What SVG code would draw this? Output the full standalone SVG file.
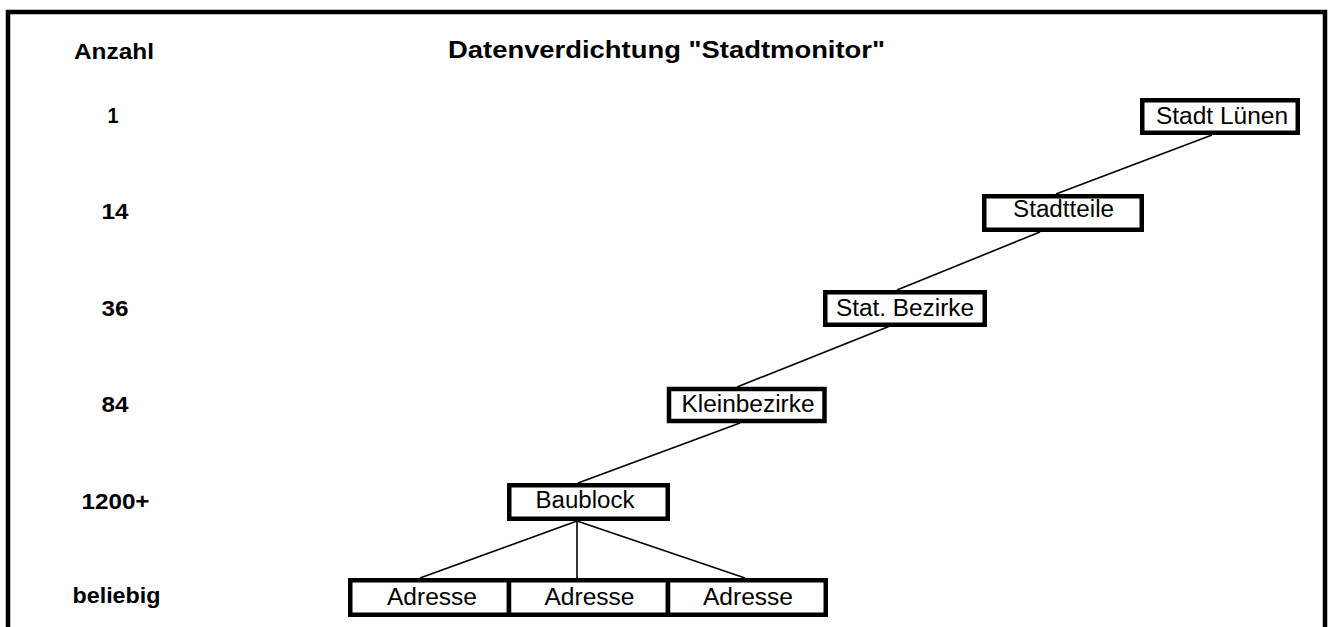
<svg xmlns="http://www.w3.org/2000/svg" width="1333" height="627" viewBox="0 0 1333 627">
<style>
.box{fill:#fff;stroke:#000;stroke-width:4.5}
.lbl{font-family:"Liberation Sans",Arial,sans-serif;font-size:23.5px;fill:#000;text-anchor:middle}
.cnt{font-family:"Liberation Sans",Arial,sans-serif;font-size:22px;font-weight:bold;fill:#000;text-anchor:middle}
.ttl{font-family:"Liberation Sans",Arial,sans-serif;font-size:23.5px;font-weight:bold;fill:#000;text-anchor:middle}
.ln{stroke:#000;stroke-width:1.6;fill:none}
</style>
<rect width="1333" height="627" fill="#fff"/>
<path d="M8 640 V12 H1325 V640" fill="none" stroke="#000" stroke-width="4.5"/>
<g id="header">
<text class="cnt" x="114" y="59" textLength="80" lengthAdjust="spacingAndGlyphs">Anzahl</text>
<text class="ttl" x="666.5" y="58" textLength="437" lengthAdjust="spacingAndGlyphs">Datenverdichtung "Stadtmonitor"</text>
</g>
<g id="counts">
<text class="cnt" x="113" y="123" textLength="11" lengthAdjust="spacingAndGlyphs">1</text>
<text class="cnt" x="115" y="219" textLength="27" lengthAdjust="spacingAndGlyphs">14</text>
<text class="cnt" x="115" y="316" textLength="27" lengthAdjust="spacingAndGlyphs">36</text>
<text class="cnt" x="115" y="411.5" textLength="27" lengthAdjust="spacingAndGlyphs">84</text>
<text class="cnt" x="115.5" y="509" textLength="68" lengthAdjust="spacingAndGlyphs">1200+</text>
<text class="cnt" x="116.5" y="603" textLength="88" lengthAdjust="spacingAndGlyphs">beliebig</text>
</g>
<g id="connectors">
<line class="ln" x1="1212" y1="135" x2="1056" y2="194"/>
<line class="ln" x1="1040" y1="232" x2="897" y2="290"/>
<line class="ln" x1="890" y1="326" x2="737" y2="387"/>
<line class="ln" x1="740" y1="423" x2="578" y2="483"/>
<line class="ln" x1="577" y1="521" x2="420" y2="578"/>
<line class="ln" x1="577" y1="521" x2="577" y2="578"/>
<line class="ln" x1="577" y1="521" x2="745" y2="578"/>
</g>
<g id="stadt-luenen">
<rect class="box" x="1142.25" y="100.25" width="155.5" height="32.5"/>
<text class="lbl" x="1222" y="123.5" textLength="132" lengthAdjust="spacingAndGlyphs">Stadt Lünen</text>
</g>
<g id="stadtteile">
<rect class="box" x="984.25" y="196.25" width="157.5" height="33.5"/>
<text class="lbl" x="1063.5" y="217" textLength="101" lengthAdjust="spacingAndGlyphs">Stadtteile</text>
</g>
<g id="stat-bezirke">
<rect class="box" x="825.25" y="292.25" width="159.5" height="32.5"/>
<text class="lbl" x="905" y="316" textLength="138" lengthAdjust="spacingAndGlyphs">Stat. Bezirke</text>
</g>
<g id="kleinbezirke">
<rect class="box" x="669" y="389" width="155.5" height="32"/>
<text class="lbl" x="748" y="411.5" textLength="133" lengthAdjust="spacingAndGlyphs">Kleinbezirke</text>
</g>
<g id="baublock">
<rect class="box" x="509.25" y="485.25" width="158.5" height="33.5"/>
<text class="lbl" x="585" y="508" textLength="99" lengthAdjust="spacingAndGlyphs">Baublock</text>
</g>
<g id="adresse-1">
<rect class="box" x="350.25" y="580.25" width="158.75" height="34.5"/>
<text class="lbl" x="432" y="605" textLength="90" lengthAdjust="spacingAndGlyphs">Adresse</text>
</g>
<g id="adresse-2">
<rect class="box" x="509" y="580.25" width="159" height="34.5"/>
<text class="lbl" x="589.5" y="605" textLength="90" lengthAdjust="spacingAndGlyphs">Adresse</text>
</g>
<g id="adresse-3">
<rect class="box" x="668" y="580.25" width="157.75" height="34.5"/>
<text class="lbl" x="748" y="605" textLength="90" lengthAdjust="spacingAndGlyphs">Adresse</text>
</g>
</svg>
